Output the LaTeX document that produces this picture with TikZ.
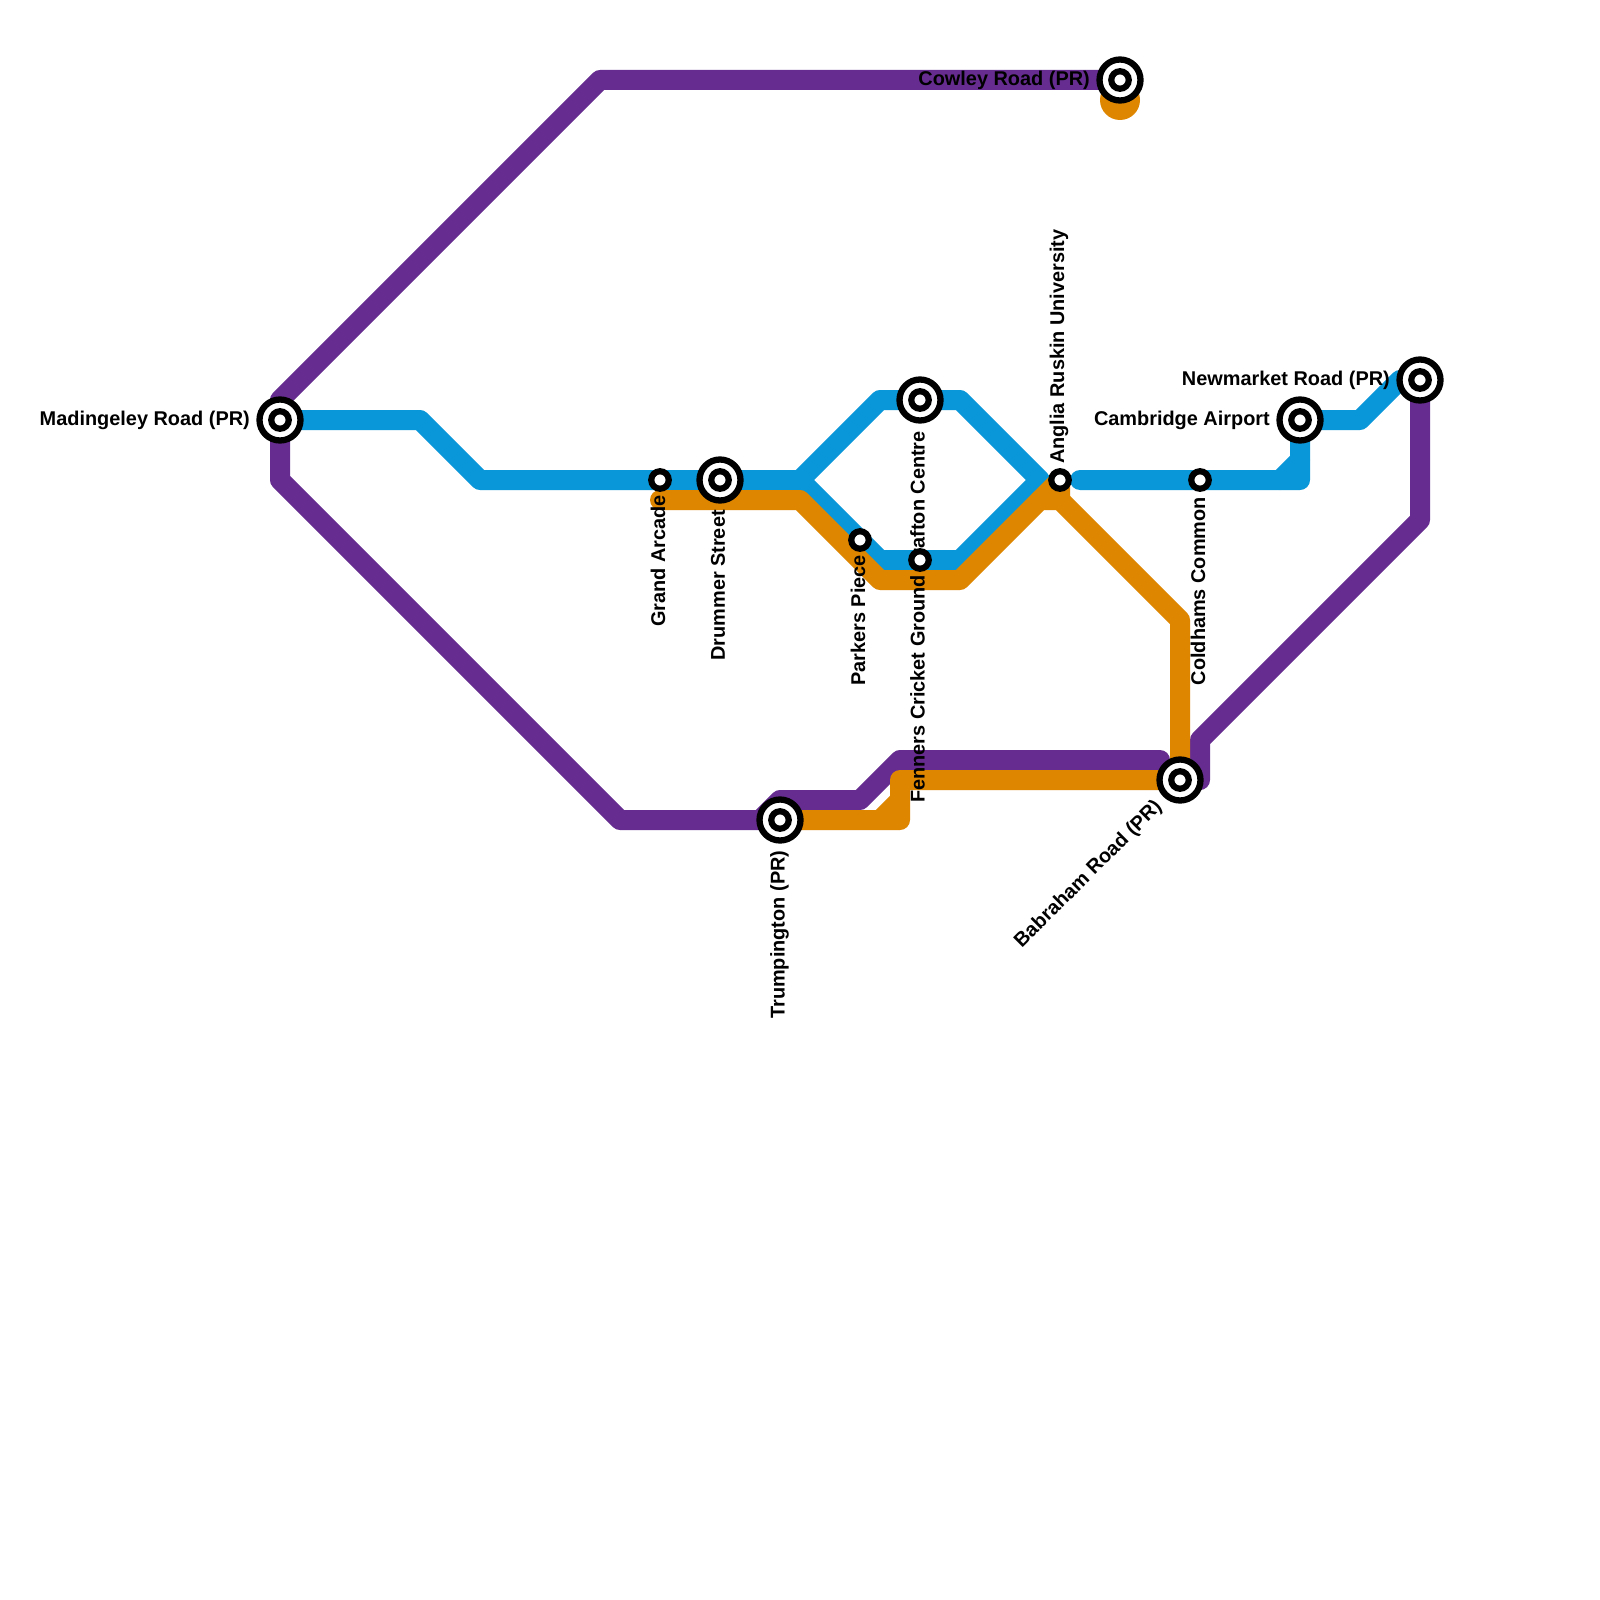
\documentclass[tikz,border=0pt]{standalone}
\usepackage{fontspec}
\setmainfont{Liberation Sans}
\definecolor{lpurple}{HTML}{662C90}
\definecolor{lblue}{HTML}{0A97D9}
\definecolor{lorange}{HTML}{DF8600}
\tikzset{
  metro/.style={line width=20pt,line cap=round,line join=round},
  purpleline/.style={metro,draw=lpurple},
  blueline/.style={metro,draw=lblue},
  orangeline/.style={metro,draw=lorange},
  endblob/.style={circle,fill=lorange,minimum size=40pt,inner sep=0pt,outer sep=0pt},
  bigring/.style={circle,draw=black,fill=white,line width=6.3pt,minimum size=41pt,inner sep=0pt,outer sep=0pt},
  ringdot/.style={circle,draw=black,fill=white,line width=6.2pt,minimum size=17.5pt,inner sep=0pt,outer sep=0pt},
  stlabel/.style={font=\bfseries\fontsize{19.9pt}{22pt}\selectfont,inner sep=0pt,text=black}
}
\newcommand{\bigstation}[2]{\node[bigring] (#1) at (#2) {};\node[ringdot] (#1dot) at (#2) {};}
\newcommand{\smallstation}[2]{\node[ringdot] (#1) at (#2) {};}
\begin{document}
\begin{tikzpicture}[x=1pt,y=-1pt]
\path[use as bounding box,fill=white] (0,0) rectangle (1600,1600);
% station positions
\coordinate (mad) at (280,420);
\coordinate (cow) at (1120,80);
\coordinate (gra) at (660,480);
\coordinate (dru) at (720,480);
\coordinate (par) at (860,540);
\coordinate (grf) at (920,400);
\coordinate (fen) at (920,560);
\coordinate (ang) at (1060,480);
\coordinate (col) at (1200,480);
\coordinate (air) at (1300,420);
\coordinate (new) at (1420,380);
\coordinate (bab) at (1180,780);
\coordinate (tru) at (780,820);
% purple
\draw[purpleline] (cow) -- (600,80) -- (280,400) -- (mad) -- (280,480) -- (620,820) -- (tru);
\draw[purpleline] (760,820) -- (780,800) -- (860,800) -- (900,760) -- (1160,760);
\draw[purpleline] (bab) -- (1200,780) -- (1200,740) -- (1420,520) -- (new);
% blue
\draw[blueline] (mad) -- (420,420) -- (480,480) -- (gra) -- (dru) -- (800,480) -- (880,400) -- (grf) -- (960,400) -- (1040,480) -- (960,560) -- (fen) -- (880,560) -- (par) -- (800,480);
\draw[blueline] (1080,480) -- (col) -- (1300,480) -- (air) -- (1360,420) -- (1400,380) -- (new);
\draw[blueline] (1280,480) -- (1300,460);
% orange
\node[endblob] (oend) at (1120,100) {};
\draw[orangeline] (660,500) -- (800,500) -- (880,580) -- (960,580) -- (1040,500) -- (1060,500) -- (1180,620) -- (bab) -- (900,780) -- (900,820) -- (tru);
\draw[orangeline] (1040,500) -- (ang) -- (1060,500);
\draw[orangeline] (880,820) -- (900,800);
% labels
\node[stlabel,anchor=east] (lmad) at (250,420) {Madingeley Road (PR)};
\node[stlabel,anchor=east] (lcow) at (1090,80) {Cowley Road (PR)};
\node[stlabel,anchor=east] (lnew) at (1390,380) {Newmarket Road (PR)};
\node[stlabel,anchor=east] (lair) at (1270,420) {Cambridge Airport};
\node[stlabel,anchor=east,rotate=90] (lgra) at (658,495) {Grand Arcade};
\node[stlabel,anchor=east,rotate=90] (ldru) at (718,510) {Drummer Street};
\node[stlabel,anchor=east,rotate=90] (lpar) at (858,555) {Parkers Piece};
\node[stlabel,anchor=east,rotate=90] (lgrf) at (917.5,431) {Grafton Centre};
\node[stlabel,anchor=west,rotate=90] (lfen) at (917.5,803) {Fenners Cricket Ground};
\node[stlabel,anchor=west,rotate=90] (lang) at (1059,464) {Anglia Ruskin University};
\node[stlabel,anchor=east,rotate=90] (lcol) at (1198,497) {Coldhams Common};
\node[stlabel,anchor=east,rotate=90] (ltru) at (779.5,850.5) {Trumpington (PR)};
\node[stlabel,anchor=east,rotate=45] (lbab) at (1159,804) {Babraham Road (PR)};
% stations
\bigstation{smad}{mad}
\bigstation{scow}{cow}
\smallstation{sgra}{gra}
\bigstation{sdru}{dru}
\smallstation{spar}{par}
\bigstation{sgrf}{grf}
\smallstation{sfen}{fen}
\smallstation{sang}{ang}
\smallstation{scol}{col}
\bigstation{sair}{air}
\bigstation{snew}{new}
\bigstation{sbab}{bab}
\bigstation{stru}{tru}
\end{tikzpicture}
\end{document}
